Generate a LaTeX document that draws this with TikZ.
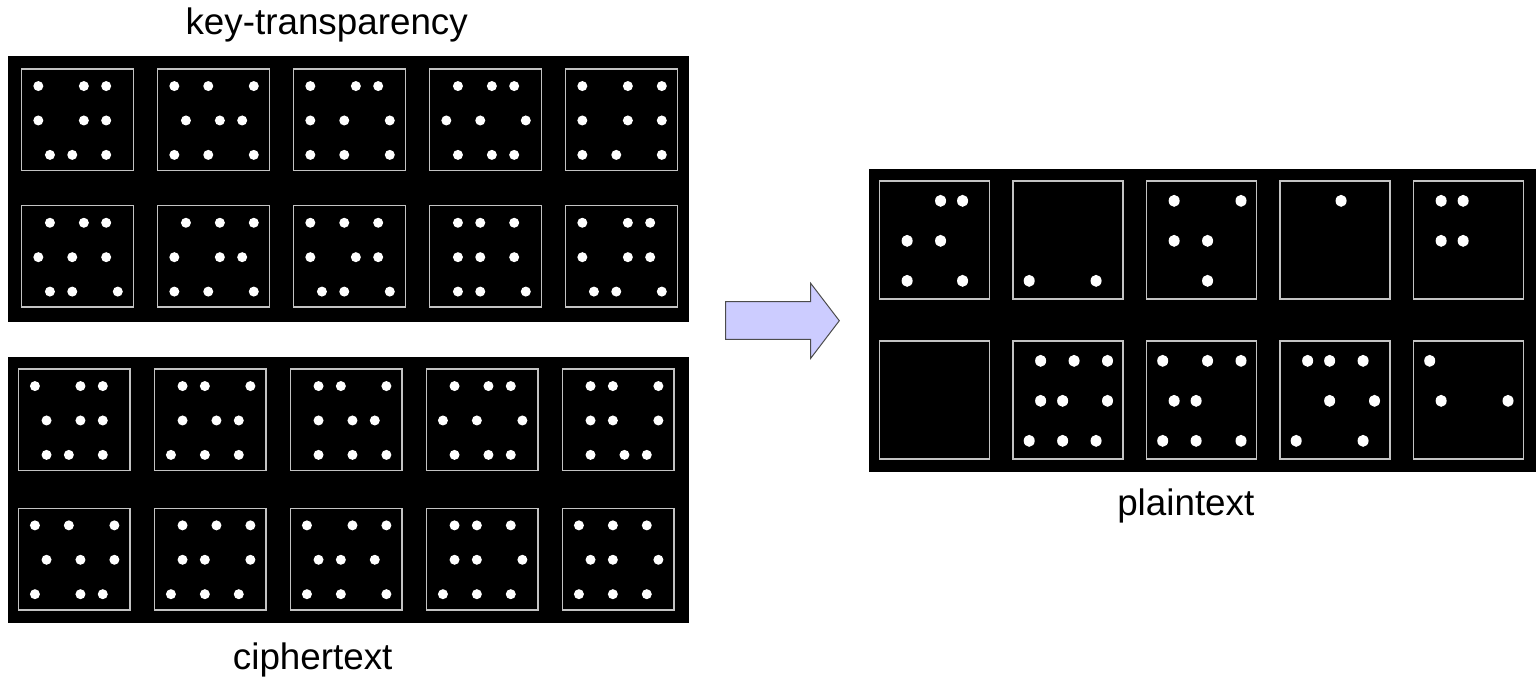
\documentclass[tikz,border=0pt]{standalone}
\usepackage{fontspec}
\setmainfont{Liberation Sans}
\usetikzlibrary{math}
\definecolor{arrowblue}{RGB}{204, 204, 255}
\definecolor{framegray}{RGB}{195, 195, 195}

\tikzset{
  panel/.style={fill=black},
  shareframe/.style={draw=framegray, line width=0.75pt},
  sharetext/.style={font=\fontsize{18.4}{22}\selectfont, anchor=base, inner sep=0pt},
}

% one share: frame and 3x3 pips (0 = left, 1 = right, 9 = none)
\newcommand{\drawshare}[5]{%
  \draw[shareframe] (#1,#2) rectangle ++(#3,#4);
  \edef\patlist{#5}%
  \foreach \pip [count=\k from 0] in \patlist {
    \ifnum\pip<2
      \pgfmathsetmacro{\cx}{#1+#3*(0.149+0.304*mod(\k,3)+0.104*\pip)}
      \pgfmathsetmacro{\cy}{#2+#4*(0.168+0.339*int(\k/3))}
      \fill[white] (\cx,\cy) ellipse [x radius=\pipx, y radius=\pipy];
    \fi
  }%
}

\begin{document}
\begin{tikzpicture}[x=0.5pt,y=-0.5pt]
\tikzmath{
\w=111.6;
\h=101.5;
\pitch=136;
\pw=110;
\ph=118;
\ppitch=133.5;
}
\useasboundingbox (0,0) rectangle (1536,677);

%%%%%%%%%%  key-transparency
\fill[panel] (8,56) rectangle (689,322);
\def\pipx{5}\def\pipy{5}
\foreach \pat [count=\n from 0] in {{0,1,0,0,1,0,1,0,0},{0,0,1,1,1,0,0,0,1},{0,1,0,0,0,1,0,0,1},{1,1,0,0,0,1,1,1,0},{0,1,1,0,1,1,0,0,1}} {
  \pgfmathsetmacro{\sx}{21.7+\n*\pitch}
  \drawshare{\sx}{69}{\w}{\h}{\pat}
}
\foreach \pat [count=\n from 0] in {{1,1,0,0,0,0,1,0,1},{1,1,1,0,1,0,0,0,1},{0,0,0,0,1,0,1,0,1},{1,0,0,1,0,0,1,0,1},{0,1,0,0,1,0,1,0,1}} {
  \pgfmathsetmacro{\sx}{21.7+\n*\pitch}
  \drawshare{\sx}{205.7}{\w}{\h}{\pat}
}
\node[sharetext] (keylabel) at (326.7,34) {key-transparency};

%%%%%%%%%%  ciphertext
\fill[panel] (8,357.3) rectangle (689,622.7);
\foreach \pat [count=\n from 0] in {{0,1,0,1,1,0,1,0,0},{1,0,1,1,1,0,0,0,0},{1,0,1,1,1,0,1,1,1},{1,1,0,0,0,1,1,1,0},{1,0,1,1,0,1,1,1,0}} {
  \pgfmathsetmacro{\sx}{18.3+\n*\pitch}
  \drawshare{\sx}{369}{\w}{\h}{\pat}
}
\foreach \pat [count=\n from 0] in {{0,0,1,1,1,1,0,1,0},{1,1,1,1,0,1,0,0,0},{0,1,1,1,0,0,0,0,1},{1,0,0,1,0,1,0,0,0},{0,0,0,1,0,1,0,0,0}} {
  \pgfmathsetmacro{\sx}{18.3+\n*\pitch}
  \drawshare{\sx}{508.3}{\w}{\h}{\pat}
}
\node[sharetext] (cipherlabel) at (312.7,669) {ciphertext};

%%%%%%%%%%  arrow
\filldraw[fill=arrowblue, draw=black!70, line width=0.5pt]
  (725.7,301.7) -- (810.7,301.7) -- (810.7,283.3) -- (839.3,320.7)
  -- (810.7,358.3) -- (810.7,339.3) -- (725.7,339.3) -- cycle;

%%%%%%%%%%  plaintext
\fill[panel] (869,169) rectangle (1536,472.3);
\def\pipx{5.5}\def\pipy{6}
\foreach \pat [count=\n from 0] in {{9,1,0,1,1,9,1,9,0},{9,9,9,9,9,9,0,9,0},{1,9,1,1,1,9,9,1,9},{9,1,9,9,9,9,9,9,9},{1,0,9,1,0,9,9,9,9}} {
  \pgfmathsetmacro{\sx}{879.3+\n*\ppitch}
  \drawshare{\sx}{181}{\pw}{\ph}{\pat}
}
\foreach \pat [count=\n from 0] in {{9,9,9,9,9,9,9,9,9},{1,1,1,1,0,1,0,0,0},{0,1,1,1,0,9,0,0,1},{1,0,0,9,0,1,0,9,0},{0,9,9,1,9,1,9,9,9}} {
  \pgfmathsetmacro{\sx}{879.3+\n*\ppitch}
  \drawshare{\sx}{341}{\pw}{\ph}{\pat}
}
\node[sharetext] (plainlabel) at (1185.8,515.5) {plaintext};

\end{tikzpicture}
\end{document}
